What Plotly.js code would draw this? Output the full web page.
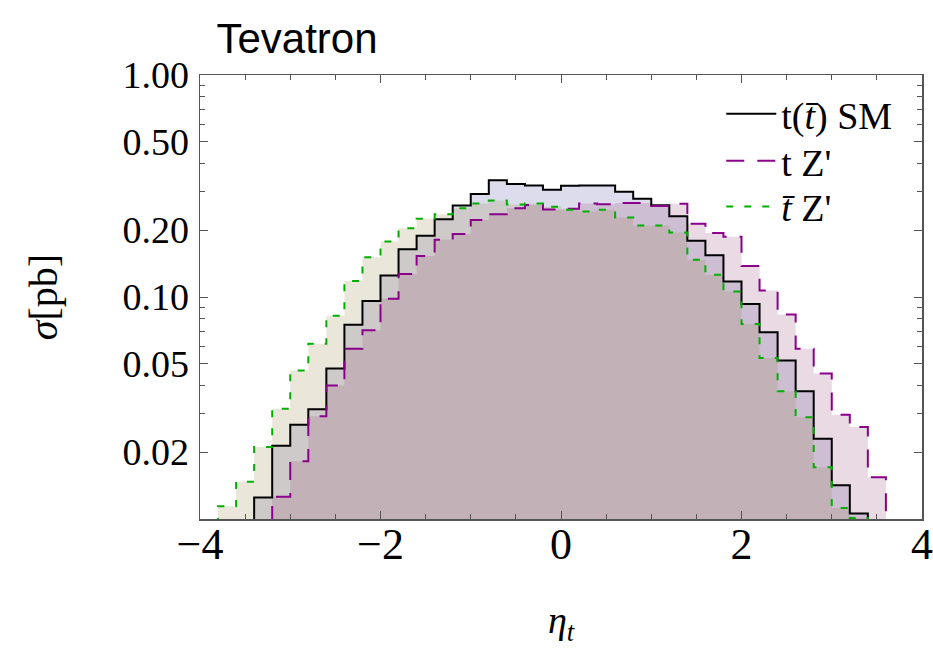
<!DOCTYPE html>
<html>
<head>
<meta charset="utf-8">
<script src="https://cdn.plot.ly/plotly-3.0.1.min.js"></script>
<style>
html,body{margin:0;padding:0;background:#fff;}
#chart{width:933px;height:656px;}
</style>
</head>
<body>
<div id="chart"></div>
<script>
// Bin edges of eta_t (38 edges -> 37 bins, width 0.2)
const binEdges = [-3.8,-3.6,-3.4,-3.2,-3.0,-2.8,-2.6,-2.4,-2.2,-2.0,-1.8,-1.6,-1.4,-1.2,-1.0,-0.8,-0.6,-0.4,-0.2,
                  0.0,0.2,0.4,0.6,0.8,1.0,1.2,1.4,1.6,1.8,2.0,2.2,2.4,2.6,2.8,3.0,3.2,3.4,3.6];

// sigma [pb] per bin (null = below the plotted range)
const sigmaSM = [null,null,0.0125,0.0214,0.0266,0.0312,0.0476,0.075,0.096,0.125,0.164,0.189,0.224,0.258,0.291,0.336,0.323,0.318,0.304,
                 0.317,0.318,0.318,0.298,0.277,0.259,0.231,0.179,0.154,0.1175,0.0929,0.0693,0.0517,0.0376,0.0230,0.0142,0.0106,null];
const sigmaTZ = [null,null,null,0.0126,0.0182,0.029,0.0399,0.0585,0.0708,0.0983,0.127,0.153,0.181,0.192,0.222,0.236,0.251,0.260,0.248,
                 0.250,0.264,0.262,0.265,0.265,0.257,0.263,0.214,0.194,0.187,0.138,0.107,0.0835,0.0585,0.0452,0.0295,0.026,0.0154];
const sigmaTbarZ = [0.0114,0.0147,0.0211,0.0314,0.0466,0.0616,0.0824,0.118,0.151,0.178,0.204,0.225,0.236,0.251,0.264,0.272,0.261,0.264,0.255,
                    0.247,0.243,0.247,0.228,0.210,0.210,0.195,0.147,0.126,0.106,0.0755,0.0531,0.0376,0.0287,0.0171,0.0112,0.0101,null];

const seriesNames = ["t(<i>t̄</i>) SM", "t Z'", "<i>t̄</i> Z'"];
const yTickVals = [0.02,0.05,0.1,0.2,0.5,1.0];
const yTickText = ["0.02","0.05","0.10","0.20","0.50","1.00"];
const xTickVals = [-4,-2,0,2,4];

const FLOOR = 0.001; // below the axis: closes the histogram down to the frame

function stepPath(vals){
  let i0 = vals.findIndex(v => v !== null);
  let i1 = vals.length - 1; while (vals[i1] === null) i1--;
  const x = [binEdges[i0]], y = [FLOOR];
  for (let i = i0; i <= i1; i++){ x.push(binEdges[i]); y.push(vals[i]); }
  x.push(binEdges[i1+1]); y.push(vals[i1]);
  x.push(binEdges[i1+1]); y.push(FLOOR);
  return {x, y};
}

const styles = [
  {fill:'rgba(80,80,160,0.2)',  line:{color:'#000000', width:2, dash:'solid'}},
  {fill:'rgba(145,70,120,0.2)', line:{color:'#8B008B', width:2, dash:'18px,13px'}},
  {fill:'rgba(150,128,70,0.2)', line:{color:'#00B000', width:2, dash:'7px,11px'}}
];
const allSeries = [sigmaSM, sigmaTZ, sigmaTbarZ];
const legendIds = ['legend', 'legend2', 'legend3'];

const traces = [];
allSeries.forEach((s, k) => {
  const p = stepPath(s);
  traces.push({x:p.x, y:p.y, type:'scatter', mode:'lines', line:{shape:'hv', width:0},
               fill:'toself', fillcolor:styles[k].fill, showlegend:false, hoverinfo:'skip'});
});
allSeries.forEach((s, k) => {
  const p = stepPath(s);
  traces.push({x:p.x, y:p.y, type:'scatter', mode:'lines', name:seriesNames[k], legend:legendIds[k],
               line:Object.assign({shape:'hv'}, styles[k].line)});
});

const serif = 'Liberation Serif, Times New Roman, serif';
const frameColor = '#555555';
function legendAt(yc){
  return {x:0.722, y:yc, xanchor:'left', yanchor:'middle', bgcolor:'rgba(0,0,0,0)',
          itemwidth:50, font:{family:serif, size:38, color:'#000'}};
}

const layout = {
  width:933, height:656,
  margin:{l:200, r:11, t:75, b:137},
  paper_bgcolor:'#ffffff', plot_bgcolor:'#ffffff',
  showlegend:true,
  title:{text:'Tevatron', font:{family:'Liberation Sans, Arial, sans-serif', size:42, color:'#000'},
         x:0.232, xref:'container', xanchor:'left', y:0.942, yref:'container', yanchor:'middle'},
  xaxis:{
    range:[-4,4], tickmode:'array', tickvals:xTickVals,
    ticks:'inside', ticklen:8, tickwidth:1, tickcolor:frameColor,
    minor:{dtick:0.5, tick0:0, ticks:'inside', ticklen:5, tickcolor:frameColor},
    showline:true, linecolor:frameColor, linewidth:1.5, mirror:'allticks',
    showgrid:false, zeroline:false,
    tickfont:{family:serif, size:44, color:'#000'},
    ticklabelstandoff:-14,
    title:{text:'<i>η<sub>t</sub></i>', font:{family:serif, size:38, color:'#000'}, standoff:38}
  },
  yaxis:{
    type:'log', range:[-2,0], tickmode:'array', tickvals:yTickVals, ticktext:yTickText,
    ticks:'inside', ticklen:8, tickwidth:1, tickcolor:frameColor,
    minor:{tickmode:'array', tickvals:[0.03,0.04,0.06,0.07,0.08,0.09,0.3,0.4,0.6,0.7,0.8,0.9], ticks:'inside', ticklen:5, tickcolor:frameColor},
    showline:true, linecolor:frameColor, linewidth:1.5, mirror:'allticks',
    showgrid:false, zeroline:false,
    tickfont:{family:serif, size:38, color:'#000'},
    ticklabelstandoff:2,
    title:{text:'<i>σ</i>[pb]', font:{family:serif, size:40, color:'#000'}, standoff:52}
  },
  legend:legendAt(0.912),
  legend2:legendAt(0.806),
  legend3:legendAt(0.703)
};

Plotly.newPlot('chart', traces, layout, {displayModeBar:false, staticPlot:true});
</script>
</body>
</html>
